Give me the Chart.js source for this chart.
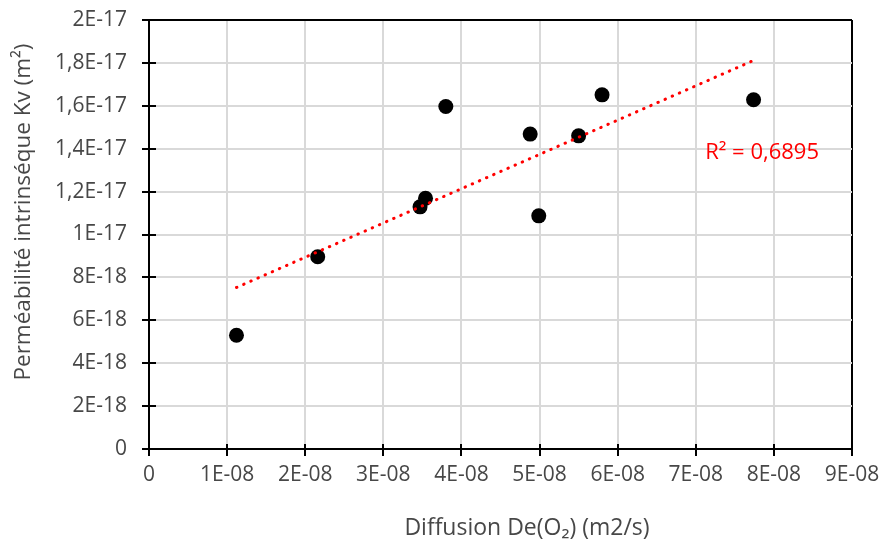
<!DOCTYPE html>
<html>
<head>
<meta charset="utf-8">
<script src="https://cdn.jsdelivr.net/npm/chart.js@4.4.0/dist/chart.umd.min.js"></script>
<style>
  html, body { margin: 0; padding: 0; background: #fff; }
</style>
</head>
<body>
<canvas id="myChart" width="883" height="546"></canvas>
<script>
// Measured points: oxygen diffusion (m2/s) vs intrinsic permeability (m2)
const diffusion = [1.12e-8, 2.16e-8, 3.47e-8, 3.54e-8, 3.80e-8, 4.88e-8, 4.99e-8, 5.50e-8, 5.80e-8, 7.74e-8];
const permeability = [5.30e-18, 8.96e-18, 11.29e-18, 11.69e-18, 15.97e-18, 14.68e-18, 10.87e-18, 14.60e-18, 16.51e-18, 16.28e-18];

const xTickValues = [0, 1e-8, 2e-8, 3e-8, 4e-8, 5e-8, 6e-8, 7e-8, 8e-8, 9e-8];
const xTickLabels = ["0", "1E-08", "2E-08", "3E-08", "4E-08", "5E-08", "6E-08", "7E-08", "8E-08", "9E-08"];
const yTickValues = [0, 2e-18, 4e-18, 6e-18, 8e-18, 10e-18, 12e-18, 14e-18, 16e-18, 18e-18, 20e-18];
const yTickLabels = ["0", "2E-18", "4E-18", "6E-18", "8E-18", "1E-17", "1,2E-17", "1,4E-17", "1,6E-17", "1,8E-17", "2E-17"];

const xTitle = "Diffusion De(O\u2082) (m2/s)";
const yTitle = "Perméabilité intrinséque Kv (m\u00b2)";
const r2Label = "R\u00b2 = 0,6895";

const FONT = '"Open Sans", "Noto Sans", sans-serif';
const TEXT_COLOR = "#474747";

// Linear trendline (least squares), drawn across the data's x range
const n = diffusion.length;
const mx = diffusion.reduce((a, b) => a + b, 0) / n;
const my = permeability.reduce((a, b) => a + b, 0) / n;
let sxy = 0, sxx = 0;
for (let i = 0; i < n; i++) {
  sxy += (diffusion[i] - mx) * (permeability[i] - my);
  sxx += (diffusion[i] - mx) * (diffusion[i] - mx);
}
const slope = sxy / sxx;
const intercept = my - slope * mx;
const xMin = Math.min(...diffusion);
const xMax = Math.max(...diffusion);
const trendPoints = [
  { x: xMin, y: intercept + slope * xMin },
  { x: xMax, y: intercept + slope * xMax }
];

// Cross ticks (inner half), axis titles and the R² label
const excelDecor = {
  id: "excelDecor",
  beforeDatasetsDraw(chart) {
    const { ctx, scales: { x, y }, chartArea } = chart;
    ctx.save();
    ctx.strokeStyle = "#000";
    ctx.lineWidth = 2;
    ctx.beginPath();
    yTickValues.forEach(v => {
      const py = Math.round(y.getPixelForValue(v));
      ctx.moveTo(chartArea.left, py);
      ctx.lineTo(chartArea.left + 7, py);
    });
    xTickValues.forEach(v => {
      const px = Math.round(x.getPixelForValue(v));
      ctx.moveTo(px, chartArea.bottom);
      ctx.lineTo(px, chartArea.bottom - 5);
    });
    ctx.stroke();
    ctx.restore();
  },
  afterDraw(chart) {
    const { ctx, scales: { x, y } } = chart;
    ctx.save();
    ctx.fillStyle = TEXT_COLOR;
    ctx.textAlign = "center";
    ctx.textBaseline = "middle";
    ctx.font = "23px " + FONT;
    ctx.fillText(xTitle, 527, 528);

    ctx.save();
    ctx.font = "22.5px " + FONT;
    ctx.translate(24, 212);
    ctx.rotate(-Math.PI / 2);
    ctx.fillText(yTitle, 0, 0);
    ctx.restore();

    ctx.font = "22px " + FONT;
    ctx.fillStyle = "#ff0000";
    ctx.textAlign = "left";
    ctx.fillText(r2Label, x.getPixelForValue(7.12e-8), y.getPixelForValue(13.8e-18));
    ctx.restore();
  }
};

new Chart(document.getElementById("myChart").getContext("2d"), {
  type: "scatter",
  data: {
    datasets: [
      {
        type: "line",
        label: "Trend",
        data: trendPoints,
        borderColor: "#ff0000",
        borderWidth: 3,
        borderDash: [0.5, 7.3],
        borderCapStyle: "round",
        pointRadius: 0,
        fill: false,
        order: 0
      },
      {
        label: "Kv",
        data: diffusion.map((v, i) => ({ x: v, y: permeability[i] })),
        backgroundColor: "#000",
        borderColor: "#000",
        pointRadius: 7.5,
        pointBorderWidth: 0,
        order: 1
      }
    ]
  },
  options: {
    responsive: false,
    animation: false,
    layout: { padding: { left: 0, top: 20, right: 31, bottom: 0 } },
    plugins: {
      legend: { display: false },
      tooltip: { enabled: false }
    },
    scales: {
      x: {
        type: "linear",
        min: 0,
        max: 9e-8,
        afterBuildTicks: s => { s.ticks = xTickValues.map(v => ({ value: v })); },
        afterFit: s => { s.height = 97; s.paddingLeft = 0; s.paddingRight = 0; },
        ticks: {
          callback: (v, i) => xTickLabels[i],
          font: { family: FONT, size: 21 },
          color: TEXT_COLOR,
          padding: 6,
          maxRotation: 0,
          autoSkip: false
        },
        grid: {
          color: c => (c.index === xTickValues.length - 1 ? "#000" : "#d9d9d9"),
          lineWidth: 2,
          tickColor: "#000",
          tickLength: 7,
          tickWidth: 2
        },
        border: { color: "#000", width: 2 }
      },
      y: {
        type: "linear",
        min: 0,
        max: 2e-17,
        afterBuildTicks: s => { s.ticks = yTickValues.map(v => ({ value: v })); },
        afterFit: s => { s.width = 149; s.paddingTop = 0; s.paddingBottom = 0; },
        ticks: {
          callback: (v, i) => yTickLabels[i],
          font: { family: FONT, size: 21 },
          color: TEXT_COLOR,
          padding: 15,
          autoSkip: false
        },
        grid: {
          color: c => (c.index === yTickValues.length - 1 ? "#000" : "#d9d9d9"),
          lineWidth: 2,
          tickColor: "#000",
          tickLength: 7,
          tickWidth: 2
        },
        border: { color: "#000", width: 2 }
      }
    }
  },
  plugins: [excelDecor]
});
</script>
</body>
</html>
